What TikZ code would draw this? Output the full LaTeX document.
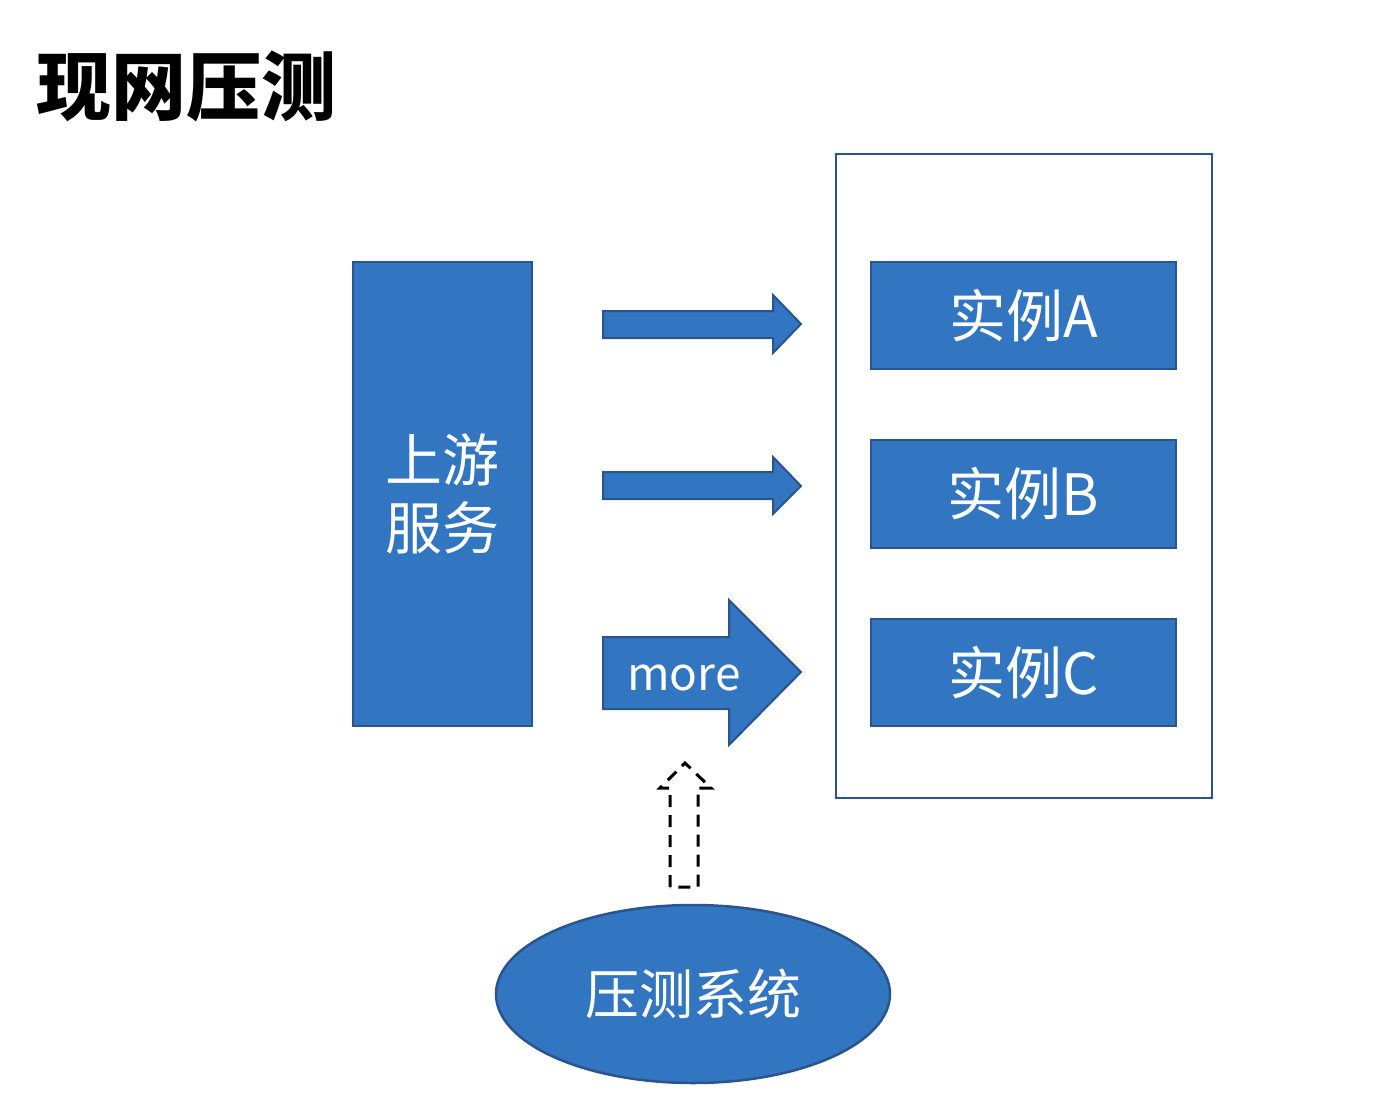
\documentclass[tikz,border=0pt]{standalone}
\usepackage{fontspec}
\newfontfamily\cjk{Noto Sans CJK SC}
\newfontfamily\cjkbold{Noto Sans CJK SC Black}
\usepackage{tikz}
\usetikzlibrary{positioning,shapes.geometric}
\definecolor{boxfill}{RGB}{50,117,192}
\definecolor{boxline}{RGB}{42,84,142}

\tikzset{
  bluebox/.style={draw=boxline, line width=2.5pt, fill=boxfill, text=white,
    inner sep=0pt, font=\cjk\fontsize{57}{68}\selectfont},
  blockarrow/.style={draw=boxline, line width=2pt, fill=boxfill},
}

\begin{document}
\begin{tikzpicture}[x=1pt,y=-1pt]
\useasboundingbox (0,0) rectangle (1384,1106);
% title
\node[anchor=west, inner sep=0pt, font=\cjkbold\fontsize{75}{80}\selectfont] (title) at (36,86) {现网压测};
% upstream service
\node[bluebox, minimum width=179pt, minimum height=464pt, align=center] (upstream) at (442.5,494) {上游\\服务};
% container of the instances
\node[draw=boxline, line width=2.5pt, fill=white, minimum width=376pt, minimum height=644pt] (group) at (1024,476) {};
\node[bluebox, minimum width=305pt, minimum height=107pt] (instA) at (1023.5,315.5) {实例A};
\node[bluebox, minimum width=305pt, minimum height=108pt] (instB) at (1023.5,494) {实例B};
\node[bluebox, minimum width=305pt, minimum height=107pt] (instC) at (1023.5,672.5) {实例C};
% arrows towards the instances
\draw[blockarrow] (603,311) -- (773,311) -- (773,295) -- (801,324) -- (773,353) -- (773,338) -- (603,338) -- cycle;
\draw[blockarrow] (603,472) -- (773,472) -- (773,457) -- (801,486) -- (773,514) -- (773,499) -- (603,499) -- cycle;
\draw[blockarrow] (603,637) -- (729,637) -- (729,600) -- (801,672) -- (729,745) -- (729,709) -- (603,709) -- cycle;
\node[text=white, inner sep=0pt, font=\cjk\fontsize{46}{50}\selectfont] (more) at (684,678) {more};
% load testing system
\node[ellipse, draw=boxline, line width=2.5pt, fill=boxfill, text=white, minimum width=394pt, minimum height=178pt,
  font=\cjk\fontsize{54}{60}\selectfont] (tester) at (693,994) {压测系统};
% dashed arrow up
\draw[line width=3pt, dash pattern=on 12pt off 8pt] (670,887) -- (670,788) -- (660,788) -- (685,763) -- (711,788) -- (698,788) -- (698,887) -- cycle;
\end{tikzpicture}
\end{document}
